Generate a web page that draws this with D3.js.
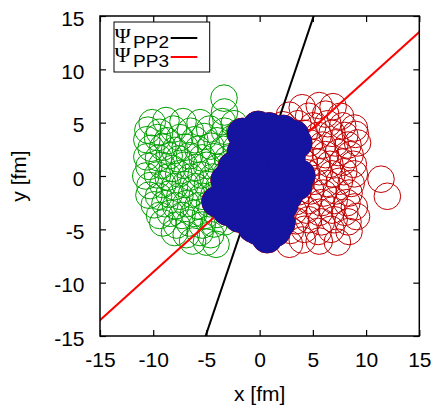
<!DOCTYPE html>
<html>
<head>
<meta charset="utf-8">
<script src="https://cdn.jsdelivr.net/npm/d3@7"></script>
<style>
  body { margin: 0; background: #fff; }
  text { font-family: "Liberation Sans", Arial, sans-serif; }
</style>
</head>
<body>
<div id="chart"></div>
<script>
// nucleon transverse positions [x, y] in fm
var greenNucleons = [
  [-10.1,5.0],[-8.8,5.2],[-7.2,5.1],[-5.6,5.0],[-3.5,5.1],[-2.4,4.9],[-3.35,7.3],[-3.3,6.0],
  [-10.5,4.3],[-9.4,4.1],[-8.1,4.4],[-6.5,4.2],[-4.7,4.4],[-3.3,4.2],[-1.9,4.1],
  [-10.6,3.4],[-9.6,3.6],[-8.7,3.3],[-7.5,3.6],[-6.1,3.4],[-5.2,3.7],[-4.0,3.3],[-2.6,3.5],[-1.4,3.4],
  [-10.2,2.6],[-9.1,2.7],[-8.0,2.4],[-7.0,2.7],[-5.8,2.5],[-4.6,2.8],[-3.4,2.5],[-2.2,2.6],
  [-10.6,1.8],[-9.5,1.7],[-8.5,1.9],[-7.6,1.6],[-6.6,1.9],[-5.4,1.7],[-4.3,1.8],[-3.0,1.6],[-1.8,1.9],
  [-10.4,0.9],[-9.2,1.0],[-8.2,0.7],[-7.1,1.0],[-6.0,0.8],[-5.0,1.0],[-3.9,0.8],[-2.7,0.9],
  [-10.7,0.0],[-9.6,0.1],[-8.6,-0.1],[-7.6,0.2],[-6.5,-0.1],[-5.5,0.1],[-4.4,-0.1],[-3.2,0.1],[-2.0,-0.1],
  [-10.3,-0.9],[-9.1,-0.8],[-8.0,-1.0],[-7.0,-0.8],[-6.0,-1.0],[-4.9,-0.8],[-3.8,-1.0],[-2.6,-0.9],
  [-10.4,-1.8],[-9.5,-1.9],[-8.5,-1.7],[-7.5,-1.9],[-6.4,-1.7],[-5.4,-1.9],[-4.3,-1.8],[-3.1,-1.7],
  [-9.9,-2.7],[-8.9,-2.6],[-7.9,-2.8],[-6.9,-2.6],[-5.8,-2.8],[-4.7,-2.6],[-3.5,-2.8],
  [-9.4,-3.7],[-8.4,-3.5],[-7.3,-3.7],[-6.2,-3.5],[-5.1,-3.7],[-4.0,-3.6],
  [-9.1,-4.4],[-7.8,-4.6],[-6.6,-4.4],[-5.4,-4.6],[-4.3,-4.5],[-3.3,-4.3],
  [-8.0,-5.3],[-6.9,-5.5],[-5.6,-5.3],[-4.6,-5.5],
  [-6.3,-6.1],[-5.0,-6.2],[-4.1,-6.4]
];

var redNucleons = [
  [4.0,6.4],[5.6,6.6],[6.9,6.5],
  [2.8,5.7],[4.6,5.6],[6.2,5.8],[7.6,5.6],
  [2.2,4.8],[3.6,4.9],[5.0,4.7],[6.4,4.9],[7.8,4.7],[8.9,4.5],
  [3.0,3.9],[4.2,4.0],[5.5,3.8],[6.8,4.0],[8.0,3.8],[9.0,3.9],
  [3.5,3.0],[4.7,3.1],[5.9,2.9],[7.1,3.1],[8.3,2.9],[9.2,3.1],
  [3.8,2.1],[5.0,2.2],[6.2,2.0],[7.4,2.2],[8.5,2.0],
  [4.2,1.2],[5.4,1.3],[6.6,1.1],[7.8,1.3],[8.8,1.1],
  [4.4,0.3],[5.6,0.4],[6.8,0.2],[7.9,0.4],[8.9,0.2],
  [3.9,-0.6],[5.1,-0.5],[6.3,-0.7],[7.5,-0.5],[8.6,-0.7],
  [3.6,-1.5],[4.8,-1.4],[6.0,-1.6],[7.2,-1.4],[8.4,-1.6],
  [3.4,-2.4],[4.6,-2.3],[5.8,-2.5],[7.0,-2.3],[8.2,-2.5],[8.9,-2.9],
  [3.2,-3.3],[4.4,-3.2],[5.6,-3.4],[6.8,-3.2],[8.0,-3.4],[9.1,-3.8],
  [3.4,-4.2],[4.6,-4.1],[5.8,-4.3],[7.0,-4.1],[8.3,-4.3],
  [2.9,-5.1],[4.2,-5.0],[5.5,-5.2],[6.7,-5.0],[8.4,-5.2],
  [2.8,-6.4],[4.0,-6.0],[5.6,-6.1],[7.3,-6.2],
  [11.4,-0.3],[12.0,-1.9]
];

var participants = [
  [-0.14,4.65],[2.21,4.27],[-1.6,3.99],[0.9,4.5],[3.2,3.8],
  [-1.6,2.3],[-2.45,0.84],[-3.15,-0.4],[-4.0,-2.4],[-3.0,-3.2],[-1.93,-3.84],
  [-0.6,-4.8],[0.71,-5.78],[1.46,-5.16],[1.89,-4.4],
  [2.17,-2.72],[3.49,-0.84],[3.77,0.09],[2.83,1.69],[3.49,3.09],[2.6,-1.8],
  [-0.5,3.0],[1.2,3.0],[2.3,2.6],[-0.8,1.5],[0.8,1.5],[2.0,0.6],
  [-1.8,-0.6],[-0.3,0.0],[1.3,-0.5],[2.4,-1.0],
  [-2.6,-1.8],[-1.0,-1.6],[0.5,-1.9],[1.6,-2.8],
  [-1.2,-3.0],[0.2,-3.4],[0.5,-4.6],[1.2,-4.0],[-0.2,-5.0]
];

var nucleonR = 1.25;            // fm, spectator circles
var participantR = 1.45;        // fm, filled participant circles
var planeAngles = [71.3, 42.0]; // degrees, Psi_PP2 and Psi_PP3
var planeNames = ["PP2", "PP3"];
var planeColors = ["#000000", "#ff0000"];
var xTicks = [-15, -10, -5, 0, 5, 10, 15];
var yTicks = [-15, -10, -5, 0, 5, 10, 15];

var W = 439, H = 408;
var L = 100, R = 419.3, T = 16, B = 336;

var svg = d3.select("#chart").append("svg")
    .attr("width", W)
    .attr("height", H);

var x = d3.scaleLinear().domain([-15, 15]).range([L, R]);
var y = d3.scaleLinear().domain([-15, 15]).range([B, T]);
var rPx = x(nucleonR) - x(0);
var rPart = x(participantR) - x(0);

svg.append("clipPath").attr("id", "clip")
  .append("rect")
    .attr("x", L).attr("y", T)
    .attr("width", R - L).attr("height", B - T);

var plot = svg.append("g").attr("clip-path", "url(#clip)");

// spectators
plot.append("g").selectAll("circle")
    .data(greenNucleons)
  .enter().append("circle")
    .attr("cx", function(d) { return x(d[0]); })
    .attr("cy", function(d) { return y(d[1]); })
    .attr("r", rPx)
    .style("fill", "none")
    .style("stroke", "#00a000")
    .style("stroke-width", 1);

plot.append("g").selectAll("circle")
    .data(redNucleons)
  .enter().append("circle")
    .attr("cx", function(d) { return x(d[0]); })
    .attr("cy", function(d) { return y(d[1]); })
    .attr("r", rPx)
    .style("fill", "none")
    .style("stroke", "#c00000")
    .style("stroke-width", 1);

// event planes through the origin
plot.append("g").selectAll("line")
    .data(planeAngles)
  .enter().append("line")
    .attr("x1", function(d) { return x(-30 * Math.cos(d * Math.PI / 180)); })
    .attr("y1", function(d) { return y(-30 * Math.sin(d * Math.PI / 180)); })
    .attr("x2", function(d) { return x(30 * Math.cos(d * Math.PI / 180)); })
    .attr("y2", function(d) { return y(30 * Math.sin(d * Math.PI / 180)); })
    .style("stroke", function(d, i) { return planeColors[i]; })
    .style("stroke-width", 2);

// participants: outline pass then fill pass
var part = plot.append("g");
part.selectAll("circle.edge")
    .data(participants)
  .enter().append("circle")
    .attr("class", "edge")
    .attr("cx", function(d) { return x(d[0]); })
    .attr("cy", function(d) { return y(d[1]); })
    .attr("r", rPart)
    .style("fill", "#1414a0")
    .style("stroke", "#b00000")
    .style("stroke-width", 1);
part.selectAll("circle.fill")
    .data(participants)
  .enter().append("circle")
    .attr("class", "fill")
    .attr("cx", function(d) { return x(d[0]); })
    .attr("cy", function(d) { return y(d[1]); })
    .attr("r", rPart)
    .style("fill", "#1414a0");

// axes, ticks inward on all sides
var fs = "21px";
var fmt = function(d) { return String(d); };
var gx = svg.append("g")
    .attr("transform", "translate(0," + B + ")")
    .call(d3.axisBottom(x).tickValues(xTicks).tickFormat(fmt).tickSize(-6).tickPadding(16));
var gy = svg.append("g")
    .attr("transform", "translate(" + L + ",0)")
    .call(d3.axisLeft(y).tickValues(yTicks).tickFormat(fmt).tickSize(-6).tickPadding(15.5));
svg.append("g")
    .attr("transform", "translate(0," + T + ")")
    .call(d3.axisTop(x).tickValues(xTicks).tickSize(-6).tickFormat(""));
svg.append("g")
    .attr("transform", "translate(" + R + ",0)")
    .call(d3.axisRight(y).tickValues(yTicks).tickSize(-6).tickFormat(""));

svg.selectAll(".tick text")
    .style("font-family", "'Liberation Sans', Arial, sans-serif")
    .style("font-size", fs)
    .attr("fill", "#000");
gy.selectAll(".tick text").attr("dy", "0.43em");
svg.selectAll(".tick line").style("stroke-width", 1.2);
svg.selectAll(".domain").remove();

svg.append("rect")
    .attr("x", L).attr("y", T)
    .attr("width", R - L).attr("height", B - T)
    .style("fill", "none")
    .style("stroke", "#000")
    .style("stroke-width", 1.5);

// axis titles
svg.append("text")
    .attr("x", (L + R) / 2)
    .attr("y", 401)
    .attr("text-anchor", "middle")
    .style("font-size", fs)
    .text("x [fm]");
svg.append("text")
    .attr("transform", "translate(26," + ((T + B) / 2) + ") rotate(-90)")
    .attr("text-anchor", "middle")
    .style("font-size", fs)
    .text("y [fm]");

// legend
var leg = svg.append("g");
leg.append("rect")
    .attr("x", 114).attr("y", 22)
    .attr("width", 95.7).attr("height", 50)
    .style("fill", "#fff")
    .style("stroke", "#000")
    .style("stroke-width", 1);

var entry = leg.selectAll("g.entry")
    .data(planeNames)
  .enter().append("g")
    .attr("class", "entry")
    .attr("transform", function(d, i) { return "translate(0," + (i * 19) + ")"; });

entry.append("text")
    .attr("x", 114.5)
    .attr("y", 43)
    .style("font-family", "'Liberation Serif', 'DejaVu Serif', serif")
    .style("font-size", "22px")
    .text("\u03A8");
entry.append("text")
    .attr("x", 133)
    .attr("y", 48)
    .attr("textLength", 36)
    .attr("lengthAdjust", "spacingAndGlyphs")
    .style("font-size", "16.5px")
    .text(function(d) { return d; });
entry.append("line")
    .attr("x1", 170.7).attr("x2", 197.3)
    .attr("y1", 38).attr("y2", 38)
    .style("stroke", function(d, i) { return planeColors[i]; })
    .style("stroke-width", 2);
</script>
</body>
</html>
